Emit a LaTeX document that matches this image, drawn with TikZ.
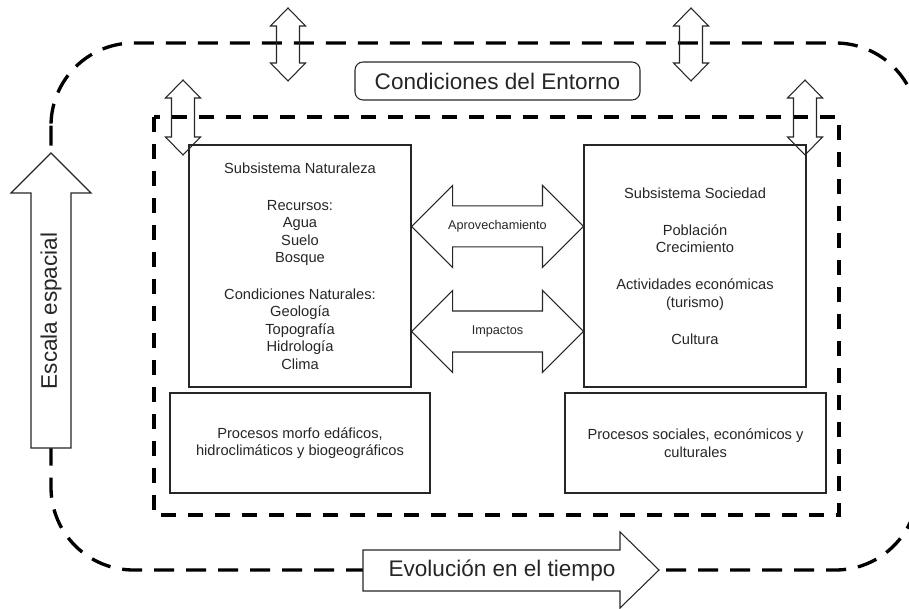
\documentclass[tikz,border=0pt]{standalone}
\usepackage{fontspec}
\setmainfont{Liberation Sans}
\usetikzlibrary{calc}

% hollow double arrows: horizontal (left tip, right tip) and vertical (top tip, bottom tip)
\newcommand{\twowayh}[2]{%
  \draw[hollow] (#1) -- ++(41,-41) -- ++(0,20.5) -- ($(#2)+(-41,-20.5)$) -- ++(0,-20.5)
    -- (#2) -- ++(-41,41) -- ++(0,-20.5) -- ($(#1)+(41,20.5)$) -- ++(0,20.5) -- cycle;}
\newcommand{\twowayv}[2]{%
  \draw[hollow] (#1) -- ++(17.5,18) -- ++(-6,0) -- ($(#2)+(11.5,-18)$) -- ++(6,0)
    -- (#2) -- ++(-17.5,-18) -- ++(6,0) -- ($(#1)+(-11.5,18)$) -- ++(-6,0) -- cycle;}

\begin{document}
\begin{tikzpicture}[x=0.75pt,y=-0.75pt]
\tikzset{every node/.style={font=\fontsize{11}{13.1}\selectfont, text=black!85},
  sbox/.style={draw=black!85, line width=0.8pt, inner sep=0pt, align=center},
  hollow/.style={draw=black!85, line width=0.8pt, line join=miter},
  biglabel/.style={font=\fontsize{16.9}{20}\selectfont},
  smalllabel/.style={font=\fontsize{9.5}{11}\selectfont},
  outerdash/.style={line width=2.5pt, dash pattern=on 15pt off 9pt},
  innerdash/.style={line width=2.3pt, dash pattern=on 11.25pt off 9pt}}

\useasboundingbox (0,0) rectangle (909,609);

% Dashed frames
\draw[outerdash, rounded corners=62pt] (51,43) rectangle (918,570);
\draw[innerdash] (154,117) rectangle (839,515);

% Subsystems
\node[sbox, minimum width=166.5pt, minimum height=181.5pt] (nat) at (300,266)
  {Subsistema Naturaleza\\[14.6pt] Recursos:\\ Agua\\ Suelo\\ Bosque\\[14.6pt]
   Condiciones Naturales:\\ Geología\\ Topografía\\ Hidrología\\ Clima};
\node[sbox, minimum width=166.5pt, minimum height=181.5pt] (soc) at (695,266)
  {Subsistema Sociedad\\[14.6pt] Población\\ Crecimiento\\[14.6pt]
   Actividades económicas\\ (turismo)\\[14.6pt] Cultura};

% Processes
\node[sbox, minimum width=195pt, minimum height=75pt] (procnat) at (300,443)
  {Procesos morfo edáficos,\\ hidroclimáticos y biogeográficos};
\node[sbox, minimum width=195.75pt, minimum height=75pt] (procsoc) at (695.5,443)
  {Procesos sociales, económicos y\\ culturales};

% Environment
\node[sbox, rounded corners=6pt, minimum width=213.75pt, minimum height=28.5pt, biglabel]
  (entorno) at (497.5,81) {Condiciones del Entorno};

% Arrows between subsystems
\coordinate (ap1) at ($(nat.north east)+(0,82)$);
\coordinate (ap2) at ($(soc.north west)+(0,82)$);
\coordinate (im1) at ($(nat.north east)+(0,187)$);
\coordinate (im2) at ($(soc.north west)+(0,187)$);
\twowayh{ap1}{ap2}
\twowayh{im1}{im2}
\node[smalllabel] (aplab) at ($(ap1)!0.5!(ap2)$) {Aprovechamiento};
\node[smalllabel] (imlab) at ($(im1)!0.5!(im2)$) {Impactos};

% Exchanges across the frames
\foreach \x/\ya/\yb in {288/8/81, 691/8/81, 183/80/155, 805/80/155}
  \twowayv{\x,\ya}{\x,\yb};

% Scale and time
\draw[hollow, fill=white] (51,153) -- (91,193) -- (71,193) -- (71,448) -- (31,448)
  -- (31,193) -- (11,193) -- cycle;
\node[biglabel, rotate=90] (escala) at (51,311) {Escala espacial};
\draw[hollow, fill=white] (363,550) -- (620,550) -- (620,532) -- (659,570) -- (620,608)
  -- (620,591) -- (363,591) -- cycle;
\node[biglabel] (evol) at (502,570.5) {Evolución en el tiempo};

\end{tikzpicture}
\end{document}
